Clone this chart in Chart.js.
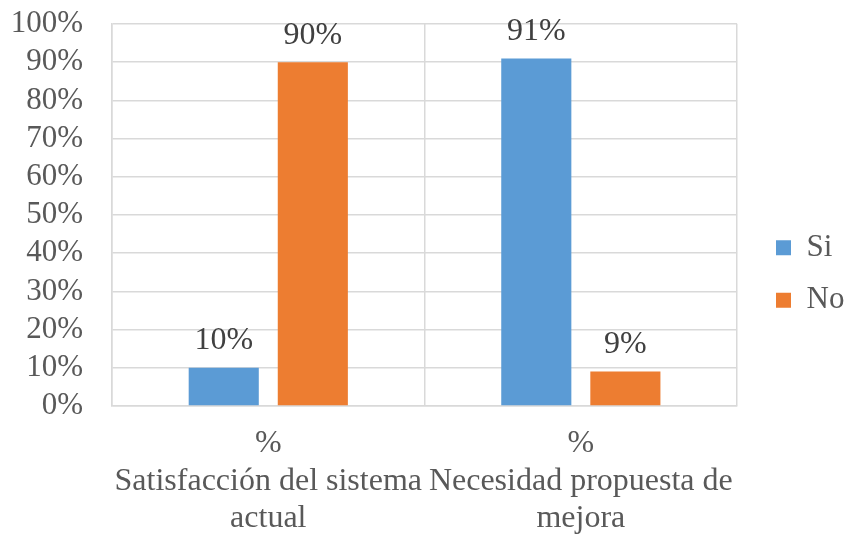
<!DOCTYPE html>
<html>
<head>
<meta charset="utf-8">
<script src="https://cdn.jsdelivr.net/npm/chart.js@4/dist/chart.umd.min.js"></script>
<style>
  html, body { margin: 0; padding: 0; background: #fff; }
  #wrap { width: 848px; height: 536px; }
</style>
</head>
<body>
<div id="wrap"><canvas id="c" width="848" height="536"></canvas></div>
<script>
// Category labels (each line is one array entry)
const categories = [
  ["%", "Satisfacción del sistema", "actual"],
  ["%", "Necesidad propuesta de", "mejora"]
];
const seriesNames = ["Si", "No"];
const siValues = [10, 91];
const noValues = [90, 9];
const yTicks = [0, 10, 20, 30, 40, 50, 60, 70, 80, 90, 100];

const FONT = "'Liberation Serif', 'Times New Roman', serif";
const GRID = '#d9d9d9';

// Writes each bar's value above it
const valueLabels = {
  id: 'valueLabels',
  afterDatasetsDraw(chart) {
    const ctx = chart.ctx;
    ctx.save();
    ctx.font = '32px ' + FONT;
    ctx.fillStyle = '#404040';
    ctx.textAlign = 'center';
    ctx.textBaseline = 'alphabetic';
    chart.data.datasets.forEach((ds, i) => {
      chart.getDatasetMeta(i).data.forEach((bar, j) => {
        ctx.fillText(ds.data[j] + '%', bar.x, bar.y - 18.5);
      });
    });
    ctx.restore();
  }
};

// Moves the legend block a little away from the plot
const legendShift = {
  id: 'legendShift',
  afterLayout(chart) {
    const lg = chart.legend;
    if (!lg) return;
    const dx = 776 - 21.5 - lg.left;
    lg.left += dx; lg.right += dx;
    lg.top += 6; lg.bottom += 6;
  }
};

new Chart(document.getElementById('c'), {
  type: 'bar',
  data: {
    labels: categories,
    datasets: [
      { label: seriesNames[0], data: siValues, backgroundColor: '#5B9BD5',
        categoryPercentage: 0.57, barPercentage: 0.787 },
      { label: seriesNames[1], data: noValues, backgroundColor: '#ED7D31',
        categoryPercentage: 0.57, barPercentage: 0.787 }
    ]
  },
  options: {
    responsive: false,
    animation: false,
    layout: { padding: { left: 12, right: 11, top: 0, bottom: 0 } },
    plugins: {
      tooltip: { enabled: false },
      legend: {
        position: 'right',
        labels: {
          boxWidth: 15, boxHeight: 15, padding: 21.5,
          color: '#595959',
          font: { family: FONT, size: 31 }
        }
      }
    },
    scales: {
      x: {
        afterFit(scale) { scale.height = 130; },
        grid: { color: GRID, lineWidth: 1.5, drawTicks: false },
        border: { color: GRID, width: 1.5 },
        ticks: {
          color: '#595959', padding: 19, autoSkip: false,
          maxRotation: 0, minRotation: 0,
          font: { family: FONT, size: 32, lineHeight: 1.17 }
        }
      },
      y: {
        min: 0, max: 100,
        afterFit(scale) {
          scale.width = 100;
          scale.paddingTop = 24;
          scale.paddingBottom = 0;
        },
        afterBuildTicks(scale) { scale.ticks = yTicks.map(v => ({ value: v })); },
        grid: { color: GRID, lineWidth: 1.5, drawTicks: false },
        border: { color: GRID, width: 1.5 },
        ticks: {
          color: '#595959', padding: 29, autoSkip: false,
          font: { family: FONT, size: 31 },
          callback: v => v + '%'
        }
      }
    }
  },
  plugins: [valueLabels, legendShift]
});
</script>
</body>
</html>
